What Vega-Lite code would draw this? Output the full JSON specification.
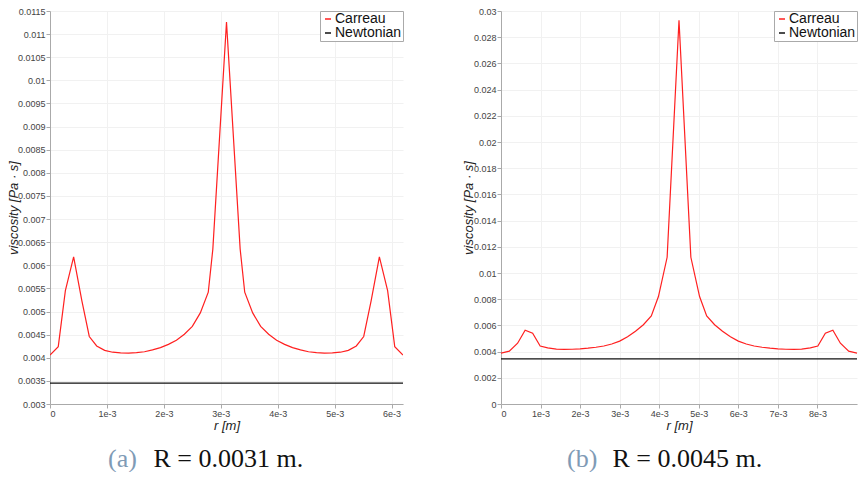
{
  "$schema": "https://vega.github.io/schema/vega-lite/v6.json",
  "background": "white",
  "padding": {"left": 7, "top": 7, "right": 0, "bottom": 0},
  "config": {
    "view": {"stroke": null},
    "axis": {
      "domainColor": "#aaaaaa", "tickColor": "#aaaaaa", "gridColor": "#f1f1f1",
      "labelColor": "#444444", "labelFont": "Liberation Sans", "labelFontSize": 9,
      "tickSize": 4, "labelPadding": 1,
      "titleFont": "Liberation Sans", "titleFontStyle": "italic", "titleFontWeight": "normal",
      "titleFontSize": 13, "titleColor": "#222222", "titlePadding": 1
    },
    "legend": {
      "orient": "top-right", "offset": 0, "padding": 1, "strokeColor": "#aaaaaa", "fillColor": "white",
      "labelFont": "Liberation Sans", "labelFontSize": 14, "labelColor": "#111111",
      "rowPadding": 0, "labelOffset": 0, "symbolType": "stroke", "symbolSize": 36, "symbolStrokeWidth": 1.5
    },
    "title": {"font": "Liberation Serif", "fontSize": 26, "fontWeight": "normal", "color": "#111111",
      "subtitleFont": "Liberation Serif", "subtitleFontSize": 26, "subtitleColor": "#7f9bb6",
      "subtitlePadding": -26, "orient": "bottom", "anchor": "start", "align": "left", "frame": "group", "offset": 14}
  },
  "datasets": {
    "a": [
      {"r": 0, "v": 0.00406, "s": "Carreau"},
      {"r": 0.000145, "v": 0.00424, "s": "Carreau"},
      {"r": 0.00027, "v": 0.00545, "s": "Carreau"},
      {"r": 0.000415, "v": 0.00618, "s": "Carreau"},
      {"r": 0.00056, "v": 0.00523, "s": "Carreau"},
      {"r": 0.00069, "v": 0.00446, "s": "Carreau"},
      {"r": 0.00082, "v": 0.004255, "s": "Carreau"},
      {"r": 0.00096, "v": 0.00416, "s": "Carreau"},
      {"r": 0.0011, "v": 0.00412, "s": "Carreau"},
      {"r": 0.00124, "v": 0.004105, "s": "Carreau"},
      {"r": 0.00138, "v": 0.0041, "s": "Carreau"},
      {"r": 0.00152, "v": 0.00411, "s": "Carreau"},
      {"r": 0.00166, "v": 0.00413, "s": "Carreau"},
      {"r": 0.0018, "v": 0.00417, "s": "Carreau"},
      {"r": 0.00194, "v": 0.00422, "s": "Carreau"},
      {"r": 0.00208, "v": 0.00429, "s": "Carreau"},
      {"r": 0.00222, "v": 0.00438, "s": "Carreau"},
      {"r": 0.00236, "v": 0.00451, "s": "Carreau"},
      {"r": 0.0025, "v": 0.00468, "s": "Carreau"},
      {"r": 0.00264, "v": 0.00497, "s": "Carreau"},
      {"r": 0.00278, "v": 0.00542, "s": "Carreau"},
      {"r": 0.00286, "v": 0.00635, "s": "Carreau"},
      {"r": 0.0031, "v": 0.01126, "s": "Carreau"},
      {"r": 0.00334, "v": 0.00635, "s": "Carreau"},
      {"r": 0.00342, "v": 0.00542, "s": "Carreau"},
      {"r": 0.00356, "v": 0.00497, "s": "Carreau"},
      {"r": 0.0037, "v": 0.00468, "s": "Carreau"},
      {"r": 0.00384, "v": 0.00451, "s": "Carreau"},
      {"r": 0.00398, "v": 0.00438, "s": "Carreau"},
      {"r": 0.00412, "v": 0.00429, "s": "Carreau"},
      {"r": 0.00426, "v": 0.00422, "s": "Carreau"},
      {"r": 0.0044, "v": 0.00417, "s": "Carreau"},
      {"r": 0.00454, "v": 0.00413, "s": "Carreau"},
      {"r": 0.00468, "v": 0.00411, "s": "Carreau"},
      {"r": 0.00482, "v": 0.0041, "s": "Carreau"},
      {"r": 0.00496, "v": 0.004105, "s": "Carreau"},
      {"r": 0.0051, "v": 0.00412, "s": "Carreau"},
      {"r": 0.00524, "v": 0.00416, "s": "Carreau"},
      {"r": 0.00538, "v": 0.004255, "s": "Carreau"},
      {"r": 0.00551, "v": 0.00446, "s": "Carreau"},
      {"r": 0.00564, "v": 0.00523, "s": "Carreau"},
      {"r": 0.005785, "v": 0.00618, "s": "Carreau"},
      {"r": 0.00593, "v": 0.00545, "s": "Carreau"},
      {"r": 0.006055, "v": 0.00424, "s": "Carreau"},
      {"r": 0.0062, "v": 0.00406, "s": "Carreau"},
      {"r": 0, "v": 0.00345, "s": "Newtonian"},
      {"r": 0.0062, "v": 0.00345, "s": "Newtonian"}
    ],
    "b": [
      {"r": 0, "v": 0.00388, "s": "Carreau"},
      {"r": 0.00021, "v": 0.00403, "s": "Carreau"},
      {"r": 0.00042, "v": 0.00464, "s": "Carreau"},
      {"r": 0.00061, "v": 0.00563, "s": "Carreau"},
      {"r": 0.0008, "v": 0.0054, "s": "Carreau"},
      {"r": 0.00099, "v": 0.00443, "s": "Carreau"},
      {"r": 0.00118, "v": 0.00428, "s": "Carreau"},
      {"r": 0.0014, "v": 0.00419, "s": "Carreau"},
      {"r": 0.0016, "v": 0.00417, "s": "Carreau"},
      {"r": 0.0018, "v": 0.00418, "s": "Carreau"},
      {"r": 0.002, "v": 0.00421, "s": "Carreau"},
      {"r": 0.0022, "v": 0.00426, "s": "Carreau"},
      {"r": 0.0024, "v": 0.00433, "s": "Carreau"},
      {"r": 0.0026, "v": 0.00443, "s": "Carreau"},
      {"r": 0.0028, "v": 0.00458, "s": "Carreau"},
      {"r": 0.003, "v": 0.0048, "s": "Carreau"},
      {"r": 0.0032, "v": 0.00513, "s": "Carreau"},
      {"r": 0.0034, "v": 0.00556, "s": "Carreau"},
      {"r": 0.0036, "v": 0.00605, "s": "Carreau"},
      {"r": 0.0038, "v": 0.00672, "s": "Carreau"},
      {"r": 0.00398, "v": 0.0082, "s": "Carreau"},
      {"r": 0.0042, "v": 0.0112, "s": "Carreau"},
      {"r": 0.0045, "v": 0.0293, "s": "Carreau"},
      {"r": 0.0048, "v": 0.0112, "s": "Carreau"},
      {"r": 0.00502, "v": 0.0082, "s": "Carreau"},
      {"r": 0.0052, "v": 0.00672, "s": "Carreau"},
      {"r": 0.0054, "v": 0.00605, "s": "Carreau"},
      {"r": 0.0056, "v": 0.00556, "s": "Carreau"},
      {"r": 0.0058, "v": 0.00513, "s": "Carreau"},
      {"r": 0.006, "v": 0.0048, "s": "Carreau"},
      {"r": 0.0062, "v": 0.00458, "s": "Carreau"},
      {"r": 0.0064, "v": 0.00443, "s": "Carreau"},
      {"r": 0.0066, "v": 0.00433, "s": "Carreau"},
      {"r": 0.0068, "v": 0.00426, "s": "Carreau"},
      {"r": 0.007, "v": 0.00421, "s": "Carreau"},
      {"r": 0.0072, "v": 0.00418, "s": "Carreau"},
      {"r": 0.0074, "v": 0.00417, "s": "Carreau"},
      {"r": 0.0076, "v": 0.00419, "s": "Carreau"},
      {"r": 0.00782, "v": 0.00428, "s": "Carreau"},
      {"r": 0.00801, "v": 0.00443, "s": "Carreau"},
      {"r": 0.0082, "v": 0.0054, "s": "Carreau"},
      {"r": 0.00839, "v": 0.00563, "s": "Carreau"},
      {"r": 0.00858, "v": 0.00464, "s": "Carreau"},
      {"r": 0.00879, "v": 0.00403, "s": "Carreau"},
      {"r": 0.009, "v": 0.00388, "s": "Carreau"},
      {"r": 0, "v": 0.00345, "s": "Newtonian"},
      {"r": 0.009, "v": 0.00345, "s": "Newtonian"}
    ]
  },
  "resolve": {"scale": {"color": "independent"}, "legend": {"color": "independent"}},
  "spacing": 58,
  "hconcat": [
    {
      "title": {"text": "\u200b\u00a0\u00a0\u00a0\u00a0\u00a0\u00a0\u00a0R = 0.0031 m.", "subtitle": "(a)", "dx": 58},
      "width": 353, "height": 393,
      "data": {"name": "a"},
      "mark": {"type": "line", "strokeWidth": 1.2, "clip": true},
      "encoding": {
        "x": {"field": "r", "type": "quantitative", "title": "r  [m]",
          "scale": {"domain": [0, 0.0062], "nice": false, "zero": false},
          "axis": {"values": [0, 0.001, 0.002, 0.003, 0.004, 0.005, 0.006],
            "labelExpr": "datum.value == 0 ? '0' : format(datum.value * 1000, '.0f') + 'e-3'"}},
        "y": {"field": "v", "type": "quantitative", "title": "viscosity  [Pa · s]",
          "scale": {"domain": [0.003, 0.0115], "nice": false, "zero": false},
          "axis": {"values": [0.003, 0.0035, 0.004, 0.0045, 0.005, 0.0055, 0.006, 0.0065, 0.007, 0.0075, 0.008, 0.0085, 0.009, 0.0095, 0.01, 0.0105, 0.011, 0.0115], "format": ".4~f", "titleX": -30}},
        "color": {"field": "s", "type": "nominal",
          "scale": {"domain": ["Carreau", "Newtonian"], "range": ["#ff2020", "#111111"]},
          "legend": {"title": null}}
      }
    },
    {
      "title": {"text": "\u200b\u00a0\u00a0\u00a0\u00a0\u00a0\u00a0\u00a0R = 0.0045 m.", "subtitle": "(b)", "dx": 66},
      "width": 356, "height": 393,
      "data": {"name": "b"},
      "mark": {"type": "line", "strokeWidth": 1.2, "clip": true},
      "encoding": {
        "x": {"field": "r", "type": "quantitative", "title": "r  [m]",
          "scale": {"domain": [0, 0.009], "nice": false, "zero": false},
          "axis": {"values": [0, 0.001, 0.002, 0.003, 0.004, 0.005, 0.006, 0.007, 0.008],
            "labelExpr": "datum.value == 0 ? '0' : format(datum.value * 1000, '.0f') + 'e-3'"}},
        "y": {"field": "v", "type": "quantitative", "title": "viscosity  [Pa · s]",
          "scale": {"domain": [0, 0.03], "nice": false, "zero": false},
          "axis": {"values": [0, 0.002, 0.004, 0.006, 0.008, 0.01, 0.012, 0.014, 0.016, 0.018, 0.02, 0.022, 0.024, 0.026, 0.028, 0.03], "format": ".3~f", "titleX": -26}},
        "color": {"field": "s", "type": "nominal",
          "scale": {"domain": ["Carreau", "Newtonian"], "range": ["#ff2020", "#111111"]},
          "legend": {"title": null}}
      }
    }
  ]
}
